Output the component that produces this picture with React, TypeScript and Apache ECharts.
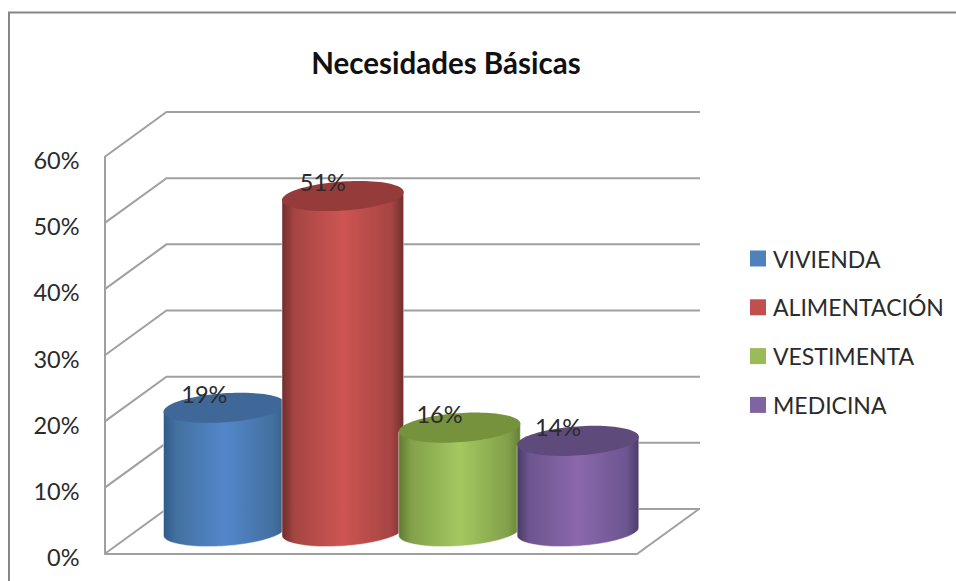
import React, { useEffect, useRef } from "react";
import * as echarts from "echarts";

const titleText = "Necesidades Básicas";
const categories = ["VIVIENDA", "ALIMENTACIÓN", "VESTIMENTA", "MEDICINA"];
const positions = [1, 2, 2.985, 3.985];
const values = [19, 51, 16, 14];
const tickValues = [0, 10, 20, 30, 40, 50, 60];
const legendColors = ["#4F81BD", "#C0504D", "#9BBB59", "#8064A2"];
const edgeLeft = ["#2f5a88", "#6f2d2b", "#5f7a32", "#4a3a66"];
const bodyShade = ["#42709f", "#a54543", "#82a04a", "#6c5590"];
const bodyMid = ["#5387cb", "#cd5553", "#a4c860", "#8b68ab"];
const edgeRight = ["#365f8a", "#722f2d", "#647f36", "#4e3c6b"];
const capColors = ["#3f6797", "#953c3a", "#76923c", "#5f4a7c"];

const FONT = "Lato";
const DEPTH_X = 62;
const DEPTH_Y = 45;
const RX = 61;
const RY = 14.5;
const TILT = (-4 * Math.PI) / 180;
const X_MIN = 0.25;
const X_MAX = 4.745;
const LINE = "#a0a0a0";

function ellipsePoint(cx: number, cy: number, t: number): number[] {
  const ex = RX * Math.cos(t);
  const ey = RY * Math.sin(t);
  return [cx + ex * Math.cos(TILT) - ey * Math.sin(TILT), cy + ex * Math.sin(TILT) + ey * Math.cos(TILT)];
}

function wallItem(params: any, api: any) {
  const v = api.value(0);
  const p = api.coord([X_MIN, v]);
  const right = api.coord([X_MAX, v])[0];
  const children: any[] = [
    {
      type: "polyline",
      shape: { points: [[p[0], p[1]], [p[0] + DEPTH_X, p[1] - DEPTH_Y], [700, p[1] - DEPTH_Y]] },
      style: { stroke: LINE, lineWidth: 2, fill: "none" },
    },
  ];
  if (v === 0) {
    children.push({
      type: "polyline",
      shape: { points: [[p[0], p[1]], [right, p[1]], [right + DEPTH_X, p[1] - DEPTH_Y]] },
      style: { stroke: LINE, lineWidth: 2, fill: "none" },
    });
  }
  return { type: "group", children };
}

function cylinderItem(index: number) {
  return (params: any, api: any) => {
    const x = api.value(0);
    const v = api.value(1);
    const top = api.coord([x, v]);
    const base = api.coord([x, 0]);
    const cx = top[0] + DEPTH_X / 2;
    const topY = top[1] - DEPTH_Y / 2 + 2;
    const baseY = base[1] - DEPTH_Y / 2;
    const t0 = -Math.atan2(RY * Math.tan(-TILT), RX);
    const body: number[][] = [];
    const cap: number[][] = [];
    const N = 48;
    for (let i = 0; i <= N; i++) {
      body.push(ellipsePoint(cx, baseY, t0 + (Math.PI * i) / N));
    }
    const bl = body[N];
    const br = body[0];
    body.push([bl[0], bl[1] - (baseY - topY)]);
    body.push([br[0], br[1] - (baseY - topY)]);
    for (let i = 0; i < N * 2; i++) {
      cap.push(ellipsePoint(cx, topY, (Math.PI * i) / N));
    }
    return {
      type: "group",
      children: [
        {
          type: "polygon",
          shape: { points: body },
          style: {
            stroke: "rgba(255,255,255,0.45)",
            lineWidth: 1,
            fill: new echarts.graphic.LinearGradient(0, 0, 1, 0, [
              { offset: 0, color: edgeLeft[index] },
              { offset: 0.1, color: bodyShade[index] },
              { offset: 0.5, color: bodyMid[index] },
              { offset: 0.9, color: bodyShade[index] },
              { offset: 1, color: edgeRight[index] },
            ]),
          },
        },
        { type: "polygon", shape: { points: cap }, style: { fill: capColors[index] } },
        {
          type: "text",
          x: cx - 20,
          y: topY - 14,
          style: {
            text: v + "%",
            fontFamily: FONT,
            fontSize: 23.5,
            fill: "#2b2b2b",
            align: "center",
            verticalAlign: "middle",
          },
        },
      ],
    };
  };
}

export default function App() {
  const ref = useRef<HTMLDivElement>(null);
  useEffect(() => {
    document.body.style.margin = "0";
    const chart = echarts.init(ref.current!, undefined, { renderer: "svg" });
    chart.setOption({
      animation: false,
      backgroundColor: "#ffffff",
      title: {
        text: titleText,
        left: 441,
        top: 42,
        textAlign: "center",
        textStyle: { fontFamily: FONT, fontWeight: "bold", fontSize: 29.5, color: "#111111" },
      },
      legend: {
        orient: "vertical",
        left: 750,
        top: 247,
        padding: 0,
        itemWidth: 16,
        itemHeight: 16,
        itemGap: 25.8,
        icon: "rect",
        data: categories,
        selectedMode: false,
        textStyle: { fontFamily: FONT, fontSize: 23, color: "#2b2b2b", height: 16, lineHeight: 16, padding: [0, 0, 0, 2] },
      },
      graphic: [
        {
          type: "polyline",
          shape: { points: [[9, 581], [9, 12.5], [956, 12.5]] },
          style: { stroke: "#868686", lineWidth: 2, fill: "none" },
        },
      ],
      grid: { left: 104.5, right: 319, top: 157, bottom: 27 },
      xAxis: { type: "value", min: X_MIN, max: X_MAX, show: false },
      yAxis: {
        type: "value",
        min: 0,
        max: 60,
        interval: 10,
        axisLine: { show: true, lineStyle: { color: LINE, width: 2 } },
        axisTick: { show: false },
        splitLine: { show: false },
        axisLabel: {
          formatter: "{value}%",
          margin: 25,
          verticalAlign: "top",
          lineHeight: 6,
          fontFamily: FONT,
          fontSize: 23.5,
          color: "#2b2b2b",
        },
      },
      series: [
        {
          type: "custom",
          name: "walls",
          silent: true,
          z: 1,
          renderItem: wallItem,
          data: tickValues.map((v) => [v]),
          encode: { y: 0 },
          clip: false,
        },
        ...categories.map((name, i) => ({
          type: "custom",
          name,
          z: 2 + i,
          color: legendColors[i],
          itemStyle: { color: legendColors[i] },
          renderItem: cylinderItem(i),
          data: [[positions[i], values[i]]],
          encode: { x: 0, y: 1 },
          clip: false,
        })),
      ],
    });
    return () => chart.dispose();
  }, []);
  return <div ref={ref} style={{ width: 956, height: 581 }} />;
}
